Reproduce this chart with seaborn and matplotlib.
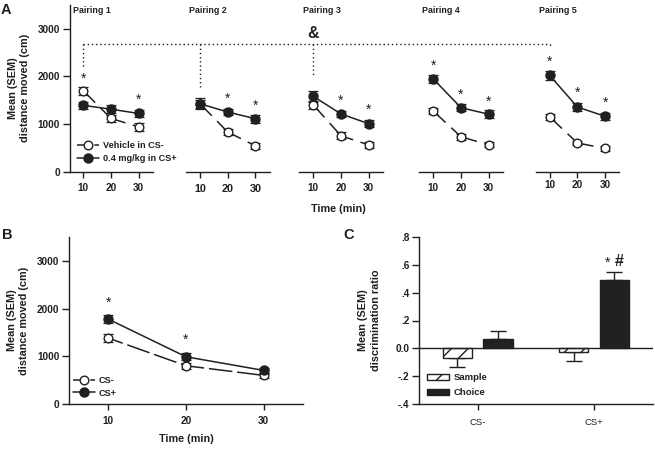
import matplotlib
matplotlib.use("Agg")
import matplotlib.pyplot as plt
from matplotlib.lines import Line2D
from matplotlib.patches import Patch
import seaborn as sns
import pandas as pd

W, H = 655, 449
INK = "#231f20"

times = [10, 20, 30]
pairing_names = ["Pairing 1", "Pairing 2", "Pairing 3", "Pairing 4", "Pairing 5"]

vehicle_cs_minus = [
    [1698, 1115, 940],
    [1425, 830, 540],
    [1400, 750, 560],
    [1270, 730, 560],
    [1145, 600, 485],
]
drug_cs_plus = [
    [1390, 1310, 1220],
    [1425, 1250, 1110],
    [1580, 1210, 1005],
    [1945, 1340, 1205],
    [2020, 1355, 1160],
]
sem_a_vehicle = [
    [80, 70, 80], [80, 70, 60], [90, 70, 60], [70, 60, 50], [70, 50, 50],
]
sem_a_drug = [
    [80, 80, 80], [110, 70, 80], [110, 70, 70], [80, 70, 80], [100, 80, 80],
]
stars_a = [
    [2014, None, 1565],
    [None, 1579, 1438],
    [None, 1544, 1354],
    [2280, 1663, 1530],
    [2365, 1719, 1495],
]

cs_minus_b = [1380, 798, 595]
cs_plus_b = [1779, 987, 700]
sem_b_minus = [85, 60, 50]
sem_b_plus = [85, 70, 60]
stars_b = [2178, 1393, None]

groups_c = ["CS-", "CS+"]
phases_c = ["Sample", "Choice"]
sample_c = [-0.072, -0.026]
choice_c = [0.065, 0.495]
sample_err_c = [0.060, 0.063]
choice_err_c = [0.062, 0.058]

sns.set_theme(style="ticks", rc={
    "lines.scale_dashes": False,
    "hatch.linewidth": 1.0,
    "axes.linewidth": 1.0,
    "axes.edgecolor": INK,
    "xtick.color": INK,
    "ytick.color": INK,
    "text.color": INK,
    "axes.labelcolor": INK,
    "xtick.major.width": 1.0,
    "ytick.major.width": 1.0,
    "xtick.major.size": 4.6,
    "ytick.major.size": 4.8,
})
plt.rcParams["font.family"] = ["Liberation Sans", "DejaVu Sans"]
plt.rcParams["font.weight"] = "bold"
plt.rcParams["axes.labelweight"] = "bold"

fig = plt.figure(figsize=(W / 100, H / 100), dpi=100)


def px_axes(left, top, right, bottom):
    return fig.add_axes([left / W, 1 - bottom / H, (right - left) / W, (bottom - top) / H])


def fx(x):
    return x / W


def fy(y):
    return 1 - y / H


def draw_series(ax, xs, ys, sem, filled, dash):
    ax.errorbar(xs, ys, yerr=sem, fmt="none", ecolor=INK, elinewidth=0.9,
                capsize=3.5, capthick=0.9, zorder=2)
    sns.lineplot(x=xs, y=ys, ax=ax, color=INK, linewidth=1.1, linestyle=dash,
                 marker="o", markersize=6.5 if filled else 6.2,
                 markerfacecolor=INK if filled else "white",
                 markeredgecolor=INK, markeredgewidth=1.0,
                 errorbar=None, legend=False, zorder=3 if not filled else 4)


def put_stars(ax, xs, vals):
    for x, v in zip(xs, vals):
        if v is not None:
            ax.annotate("*", (x, v), xytext=(0, -4.8), textcoords="offset points",
                        ha="center", va="baseline", fontsize=10, fontweight="normal")


# ---------- Panel A ----------
a_spans = [(70, 153, 83.3), (185.7, 270, 200), (299.3, 382.7, 313.3),
           (419.3, 502.7, 433.3), (535.7, 619.3, 549.7)]
a_pads = [4.0, 4.4, 4.0, 4.0, 1.2]
title_x = [72.7, 189.3, 303, 422, 538.7]
A_TOP, A_BOTTOM = 5, 171.5
SCALE_A = 2.77
axes_a = []
for i, (l, r, p10) in enumerate(a_spans):
    ax = px_axes(l, A_TOP, r, A_BOTTOM)
    ax.patch.set_alpha(0)
    draw_series(ax, times, vehicle_cs_minus[i], sem_a_vehicle[i], False, (9.4, (21.5, 5.5)))
    draw_series(ax, times, drug_cs_plus[i], sem_a_drug[i], True, "-")
    put_stars(ax, times, stars_a[i])
    ax.set_xlim(10 - (p10 - l) / SCALE_A, 10 + (r - p10) / SCALE_A)
    ax.set_ylim(0, 3500)
    ax.set_xticks(times)
    ax.set_xticklabels([str(t) for t in times], fontsize=7.8 if i == 1 else 7.2, fontweight="bold")
    ax.tick_params(axis="x", pad=a_pads[i])
    ax.set_xlabel("")
    sns.despine(ax=ax, top=True, right=True, left=i != 0)
    if i == 0:
        ax.set_yticks([0, 1000, 2000, 3000])
        ax.set_yticklabels(["0", "1000", "2000", "3000"], fontsize=7.2, fontweight="bold")
        ax.tick_params(axis="y", pad=2.3)
        ax.set_ylabel("Mean (SEM)\ndistance moved (cm)", fontsize=7.8, labelpad=5.5, linespacing=1.3)
    else:
        ax.set_yticks([])
        ax.set_ylabel("")
    fig.text(fx(title_x[i]), fy(10.3), pairing_names[i], fontsize=6.4, ha="left", va="center")
    axes_a.append(ax)

handles_a = [
    Line2D([], [], color=INK, lw=1.1, linestyle=(0, (11, 1.5)), marker="o", markersize=6.2,
           markerfacecolor="white", markeredgecolor=INK, markeredgewidth=1.0),
    Line2D([], [], color=INK, lw=1.1, marker="o", markersize=6.5,
           markerfacecolor=INK, markeredgecolor=INK, markeredgewidth=1.0),
]
axes_a[0].legend(handles_a, ["Vehicle in CS-", "0.4 mg/kg in CS+"], loc="center left",
                 bbox_to_anchor=(fx(77), fy(152.2)), bbox_transform=fig.transFigure,
                 frameon=False, fontsize=6.6, handlelength=2.4, handletextpad=0.46,
                 labelspacing=0.45, borderpad=0, borderaxespad=0)
fig.text(fx(338), fy(209), "Time (min)", fontsize=7.8, ha="center", va="center")

# significance bracket across pairings
overlay = fig.add_axes([0, 0, 1, 1], zorder=-1)
overlay.set_xlim(0, W)
overlay.set_ylim(H, 0)
overlay.axis("off")
dot = dict(color=INK, lw=1.0, linestyle=(0, (1, 2)))
overlay.plot([83, 549.7], [44, 44], **dot)
for x_d, y_d in [(83, 68), (200, 87), (313.3, 75), (549.7, 48)]:
    overlay.plot([x_d, x_d], [44, y_d], **dot)
fig.text(fx(313), fy(33.5), "&", fontsize=11.5, ha="center", va="center")

# ---------- Panel B ----------
ax_b = px_axes(69.3, 237.3, 302.7, 403.7)
draw_series(ax_b, times, cs_minus_b, sem_b_minus, False, (6, (17, 3.5)))
draw_series(ax_b, times, cs_plus_b, sem_b_plus, True, "-")
put_stars(ax_b, times, stars_b)
ax_b.set_xlim(10 - (108.3 - 69.3) / 7.77, 10 + (302.7 - 108.3) / 7.77)
ax_b.set_ylim(0, 3500)
ax_b.set_xticks(times)
ax_b.set_xticklabels([str(t) for t in times], fontsize=7.2, fontweight="bold")
ax_b.set_yticks([0, 1000, 2000, 3000])
ax_b.set_yticklabels(["0", "1000", "2000", "3000"], fontsize=7.2, fontweight="bold")
ax_b.tick_params(axis="x", pad=4.0)
ax_b.tick_params(axis="y", pad=2.3)
ax_b.set_xlabel("Time (min)", fontsize=7.8, labelpad=6)
ax_b.set_ylabel("Mean (SEM)\ndistance moved (cm)", fontsize=7.8, labelpad=5.5, linespacing=1.3)
sns.despine(ax=ax_b)
ax_b.legend(
    [Line2D([], [], color=INK, lw=1.1, linestyle=(0, (11, 1.5)), marker="o", markersize=6.2,
            markerfacecolor="white", markeredgecolor=INK, markeredgewidth=1.0),
     Line2D([], [], color=INK, lw=1.1, marker="o", markersize=6.5,
            markerfacecolor=INK, markeredgecolor=INK, markeredgewidth=1.0)],
    ["CS-", "CS+"], loc="center left",
    bbox_to_anchor=(fx(73), fy(386.7)), bbox_transform=fig.transFigure,
    frameon=False, fontsize=6.6, handlelength=2.4, handletextpad=0.4,
    labelspacing=0.4, borderpad=0, borderaxespad=0)

# ---------- Panel C ----------
ax_c = px_axes(419.3, 237.3, 652.7, 403.7)
df_c = pd.DataFrame({
    "group": groups_c * 2,
    "phase": [phases_c[0]] * 2 + [phases_c[1]] * 2,
    "ratio": sample_c + choice_c,
})
sns.barplot(data=df_c, x="group", y="ratio", hue="phase", order=groups_c, hue_order=phases_c,
            palette=["white", INK], width=0.7, gap=0.28, errorbar=None, legend=False,
            edgecolor=INK, linewidth=1.0, ax=ax_c, zorder=2)
for patch in ax_c.containers[0]:
    patch.set_hatch("//")
for container, errs, down in [(ax_c.containers[0], sample_err_c, True),
                              (ax_c.containers[1], choice_err_c, False)]:
    for patch, e in zip(container, errs):
        x = patch.get_x() + patch.get_width() / 2
        y = patch.get_y() + patch.get_height()
        yerr = [[e], [0]] if down else [[0], [e]]
        ax_c.errorbar([x], [y], yerr=yerr, fmt="none", ecolor=INK, elinewidth=1.0,
                      capsize=5.8, capthick=1.0, zorder=1)
ax_c.axhline(0, color=INK, lw=1.0, zorder=3)
ax_c.set_xlim(-0.502, 1.505)
ax_c.set_ylim(-0.4, 0.8)
ytick_c = [-0.4, -0.2, 0.0, 0.2, 0.4, 0.6, 0.8]
ax_c.set_yticks(ytick_c)
ax_c.set_yticklabels(["-.4", "-.2", "0.0", ".2", ".4", ".6", ".8"], fontsize=7.2, fontweight="bold")
ax_c.set_xticks([0, 1])
ax_c.set_xticklabels(groups_c, fontsize=6.8, fontweight="normal")
ax_c.tick_params(axis="x", pad=5.5)
ax_c.tick_params(axis="y", pad=2.3)
ax_c.set_xlabel("")
ax_c.set_ylabel("Mean (SEM)\ndiscrimination ratio", fontsize=7.8, labelpad=10.5, linespacing=1.3)
sns.despine(ax=ax_c)
ax_c.legend(
    [Patch(facecolor="white", edgecolor=INK, hatch="//", lw=1.0),
     Patch(facecolor=INK, edgecolor=INK, lw=1.0)],
    phases_c, loc="center left",
    bbox_to_anchor=(fx(427.3), fy(385)), bbox_transform=fig.transFigure,
    frameon=False, fontsize=6.8, handlelength=2.3, handleheight=0.6, handletextpad=0.5,
    labelspacing=0.6, borderpad=0, borderaxespad=0)
ax_c.annotate("*", (1.118, 0.637), xytext=(0, -4.8), textcoords="offset points",
              ha="center", va="baseline", fontsize=10, fontweight="normal")
ax_c.annotate("#", (1.215, 0.637), xytext=(0, -4.2), textcoords="offset points",
              ha="center", va="baseline", fontsize=11.5, fontweight="bold")

# Panel letters
fig.text(fx(1), fy(10), "A", fontsize=10.5, ha="left", va="center")
fig.text(fx(2), fy(235), "B", fontsize=10.5, ha="left", va="center")
fig.text(fx(343), fy(235), "C", fontsize=10.5, ha="left", va="center")

fig.savefig("out.png", dpi=100)
